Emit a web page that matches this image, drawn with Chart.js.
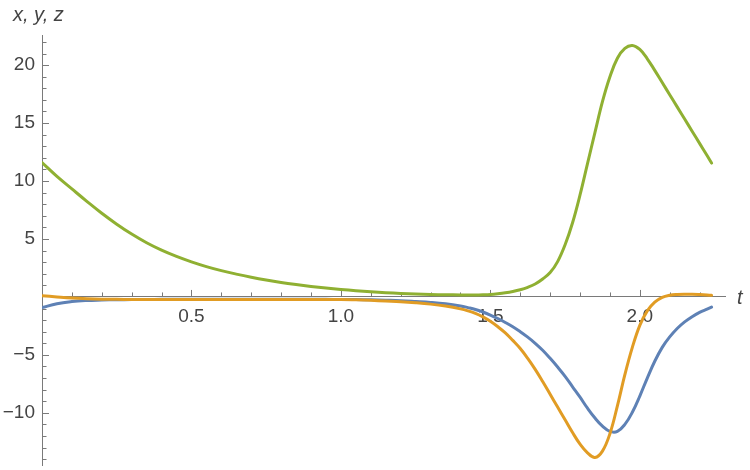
<!DOCTYPE html>
<html>
<head>
<meta charset="utf-8">
<script src="https://cdn.jsdelivr.net/npm/chart.js@4.4.1/dist/chart.umd.min.js"></script>
<style>
  html, body { margin: 0; padding: 0; background: #fff; }
  #wrap { width: 750px; height: 470px; }
</style>
</head>
<body>
<div id="wrap"><canvas id="odeChart" width="750" height="470"></canvas></div>
<script>
// sample times (t): every 0.05 up to 1.4, then every 0.025
const tValues = [0, 0.05, 0.1, 0.15, 0.2, 0.25, 0.3, 0.35, 0.4, 0.45, 0.5, 0.55, 0.6, 0.65, 0.7,
  0.75, 0.8, 0.85, 0.9, 0.95, 1.0, 1.05, 1.1, 1.15, 1.2, 1.25, 1.3, 1.35, 1.4,
  1.425, 1.45, 1.475, 1.5, 1.525, 1.55, 1.575, 1.6, 1.625, 1.65, 1.675, 1.7, 1.725, 1.75, 1.775,
  1.8, 1.825, 1.85, 1.875, 1.9, 1.925, 1.95, 1.975, 2.0, 2.025, 2.05, 2.075, 2.1, 2.125, 2.15,
  2.175, 2.2, 2.225, 2.24];

// x(t) - blue
const xValues = [-0.92, -0.58, -0.4, -0.31, -0.27, -0.24, -0.23, -0.22, -0.21, -0.21, -0.21, -0.21, -0.21, -0.21, -0.21,
  -0.21, -0.21, -0.21, -0.21, -0.21, -0.22, -0.23, -0.25, -0.28, -0.32, -0.39, -0.47, -0.59, -0.78,
  -0.92, -1.08, -1.3, -1.56, -1.86, -2.2, -2.57, -3.0, -3.47, -4.0, -4.6, -5.3, -6.05, -6.85, -7.75,
  -8.65, -9.6, -10.45, -11.15, -11.6, -11.6, -11.0, -9.95, -8.55, -7.0, -5.55, -4.35, -3.45, -2.72, -2.15,
  -1.7, -1.33, -1.05, -0.88];

// y(t) - orange
const yValues = [0.1, 0.0, -0.09, -0.15, -0.19, -0.21, -0.22, -0.22, -0.22, -0.22, -0.22, -0.22, -0.22, -0.22, -0.22,
  -0.22, -0.22, -0.22, -0.22, -0.22, -0.22, -0.25, -0.29, -0.35, -0.41, -0.5, -0.62, -0.79, -1.03,
  -1.2, -1.42, -1.72, -2.1, -2.57, -3.1, -3.75, -4.45, -5.3, -6.25, -7.3, -8.4, -9.5, -10.6, -11.7,
  -12.7, -13.45, -13.85, -13.3, -11.8, -9.4, -6.7, -4.35, -2.45, -1.2, -0.45, -0.03, 0.15, 0.22, 0.24,
  0.23, 0.2, 0.16, 0.14];

// z(t) - green
const zValues = [11.6, 10.4, 9.32, 8.25, 7.22, 6.28, 5.43, 4.68, 4.04, 3.5, 3.03, 2.62, 2.27, 1.97, 1.7,
  1.46, 1.25, 1.07, 0.91, 0.77, 0.65, 0.54, 0.45, 0.37, 0.3, 0.25, 0.21, 0.19, 0.17,
  0.165, 0.17, 0.19, 0.22, 0.28, 0.36, 0.47, 0.62, 0.83, 1.12, 1.55, 2.1, 3.05, 4.5, 6.4,
  8.8, 11.5, 14.2, 16.85, 19.0, 20.6, 21.45, 21.7, 21.35, 20.55, 19.55, 18.5, 17.45, 16.4, 15.35,
  14.3, 13.25, 12.2, 11.55];

// labelled ticks
const xTickLabels = [0.5, 1.0, 1.5, 2.0];
const yTickLabels = [-10, -5, 5, 10, 15, 20];

const axisColor = '#7a7a7a';
const textColor = '#444444';
const tickFont = { family: 'Liberation Sans, Arial, sans-serif', size: 19 };

const toPoints = vals => tValues.map((t, i) => ({ x: t, y: vals[i] }));

// small tick marks (pointing inward) and the axis titles
const axisExtras = {
  id: 'axisExtras',
  beforeDatasetsDraw(chart) {
    const { ctx, scales: { x, y } } = chart;
    const y0 = y.getPixelForValue(0);
    const left = chart.chartArea.left;
    ctx.save();
    ctx.strokeStyle = axisColor;
    ctx.lineWidth = 1;
    ctx.beginPath();
    for (let k = 1; k <= 22; k++) {
      const t = k / 10;
      const major = k % 5 === 0;
      const px = Math.round(x.getPixelForValue(t)) + 0.5;
      ctx.moveTo(px, y0);
      ctx.lineTo(px, y0 - (major ? 7 : 4.5));
    }
    for (let v = -14; v <= 22; v++) {
      if (v === 0) continue;
      const major = v % 5 === 0;
      const py = Math.round(y.getPixelForValue(v)) + 0.5;
      ctx.moveTo(left, py);
      ctx.lineTo(left + (major ? 7 : 4.5), py);
    }
    ctx.stroke();
    ctx.restore();
  },
  afterDraw(chart) {
    const { ctx, scales: { y } } = chart;
    ctx.save();
    ctx.fillStyle = textColor;
    ctx.font = 'italic 20px "Liberation Sans", Arial, sans-serif';
    ctx.textBaseline = 'middle';
    ctx.textAlign = 'left';
    ctx.fillText('x, y, z', 13, 15);
    ctx.fillText('t', 737, y.getPixelForValue(0) + 1);
    ctx.restore();
  }
};

const noPadding = s => { s.paddingTop = 0; s.paddingBottom = 0; s.paddingLeft = 0; s.paddingRight = 0; };

new Chart(document.getElementById('odeChart'), {
  type: 'line',
  data: {
    datasets: [
      { label: 'x', data: toPoints(xValues), borderColor: '#5E81B5', order: 3 },
      { label: 'y', data: toPoints(yValues), borderColor: '#E19C24', order: 2 },
      { label: 'z', data: toPoints(zValues), borderColor: '#8FB032', order: 1 }
    ]
  },
  options: {
    responsive: false,
    animation: false,
    devicePixelRatio: 1,
    layout: { padding: { left: 0, top: 35, right: 25, bottom: 5 } },
    elements: {
      line: { borderWidth: 3, tension: 0.4, fill: false, borderCapStyle: 'round', borderJoinStyle: 'round' },
      point: { radius: 0, hoverRadius: 0 }
    },
    plugins: { legend: { display: false }, tooltip: { enabled: false } },
    scales: {
      x: {
        type: 'linear',
        min: 0,
        max: 2.285,
        position: { y: 0 },
        grid: { display: false, drawTicks: false },
        border: { display: true, color: axisColor, width: 1 },
        ticks: {
          padding: 8,
          color: textColor,
          font: tickFont,
          maxRotation: 0,
          callback: v => Number(v).toFixed(1)
        },
        afterBuildTicks: s => { s.ticks = xTickLabels.map(v => ({ value: v })); },
        afterFit: noPadding
      },
      y: {
        type: 'linear',
        min: -14.5,
        max: 22.6,
        position: 'left',
        grid: { display: false, drawTicks: false },
        border: { display: true, color: axisColor, width: 1 },
        ticks: {
          padding: 7,
          color: textColor,
          font: tickFont,
          callback: v => (v < 0 ? '\u2212' + Math.abs(v) : String(v))
        },
        afterBuildTicks: s => { s.ticks = yTickLabels.map(v => ({ value: v })); },
        afterFit: s => { noPadding(s); s.width = 42; }
      }
    }
  },
  plugins: [axisExtras]
});
</script>
</body>
</html>
